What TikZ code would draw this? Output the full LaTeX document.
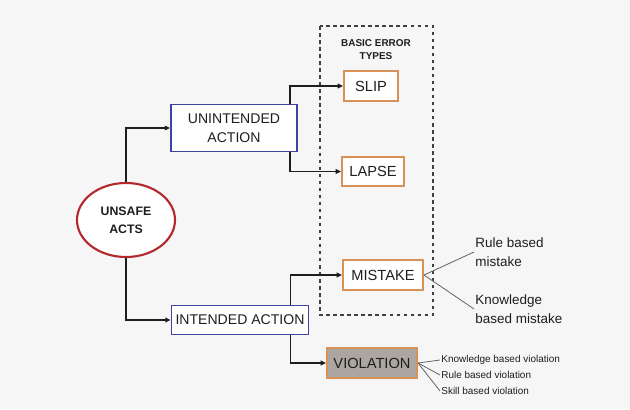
\documentclass[tikz,border=0pt]{standalone}
\usepackage{fontspec}
\setmainfont{Liberation Sans}
\usetikzlibrary{shapes.geometric,arrows.meta,calc}
\definecolor{fond}{RGB}{246,246,246}
\definecolor{bleu}{RGB}{62,66,160}
\definecolor{orange}{RGB}{214,146,88}
\definecolor{rouge}{RGB}{178,40,44}
\definecolor{encre}{RGB}{30,30,30}
\definecolor{gris}{RGB}{172,166,160}
\tikzset{
	action/.style={draw=bleu, line width=1.5pt, fill=white, inner sep=0pt, text=encre, align=center, font=\fontsize{12}{16}\selectfont},
	erreur/.style={draw=orange, line width=1.7pt, fill=white, inner sep=0pt, text=encre, font=\fontsize{12.5}{14}\selectfont},
	fleche/.style={-{Triangle[length=4.5pt,width=4pt]}, line width=1.3pt, encre},
	branche/.style={line width=0.7pt, black!60},
	note/.style={anchor=west, align=left, text=encre, inner sep=1pt}
}
\begin{document}
\begin{tikzpicture}[x=0.03cm, y=-0.03cm]
	\fill[fond] (0,0) rectangle (630,409);
	\useasboundingbox (0,0) rectangle (630,409);
	% le cadre des erreurs
	\draw[dashed, line width=1.1pt, black!75] (320,26) rectangle (433,315);
	\node[align=center, text=encre, font=\bfseries\fontsize{8.5}{11}\selectfont] (titre) at (376,50) {BASIC ERROR\\TYPES};
	% les noeuds
	\node[ellipse, draw=rouge, line width=1.8pt, fill=white, minimum width=2.94cm, minimum height=2.22cm, inner sep=0pt, align=center, text=encre, font=\bfseries\fontsize{10.5}{15}\selectfont] (acts) at (126,220) {UNSAFE\\ACTS};
	\node[action, minimum width=3.78cm, minimum height=1.41cm] (ui) at (234,128) {UNINTENDED\\ACTION};
	\node[action, minimum width=4.11cm, minimum height=0.87cm] (ia) at (240,320) {INTENDED ACTION};
	\node[erreur, minimum width=1.62cm, minimum height=0.9cm] (slip) at (371,86) {SLIP};
	\node[erreur, minimum width=1.86cm, minimum height=0.87cm] (lapse) at (373,171.5) {LAPSE};
	\node[erreur, minimum width=2.4cm, minimum height=0.9cm] (mistake) at (383,275) {MISTAKE};
	\node[erreur, fill=gris, minimum width=2.7cm, minimum height=0.9cm] (violation) at (372,363) {VIOLATION};
	% les fleches
	\draw[fleche] (acts.north) |- (ui.west);
	\draw[fleche] (acts.south) |- (ia.west);
	\draw[fleche] ($(ui.north east)+(-8,0)$) |- (slip.west);
	\draw[fleche] ($(ui.south east)+(-8,0)$) |- (lapse.west);
	\draw[fleche] ($(ia.north east)+(-19,0)$) |- (mistake.west);
	\draw[fleche] ($(ia.south east)+(-19,0)$) |- (violation.west);
	% les sous-types
	\node[note, font=\fontsize{11.5}{16}\selectfont] (rule) at (474,252) {Rule based\\mistake};
	\node[note, font=\fontsize{11.5}{16}\selectfont] (know) at (474,309) {Knowledge\\based mistake};
	\draw[branche] (mistake.east) -- (rule.west);
	\draw[branche] (mistake.east) -- (know.west);
	\node[note, font=\fontsize{8.5}{10}\selectfont] (kv) at (440,360) {Knowledge based violation};
	\node[note, font=\fontsize{8.5}{10}\selectfont] (rv) at (440,375) {Rule based violation};
	\node[note, font=\fontsize{8.5}{10}\selectfont] (sv) at (440,391) {Skill based violation};
	\draw[branche] (violation.east) -- (kv.west);
	\draw[branche] (violation.east) -- (rv.west);
	\draw[branche] (violation.east) -- (sv.west);
\end{tikzpicture}
\end{document}
